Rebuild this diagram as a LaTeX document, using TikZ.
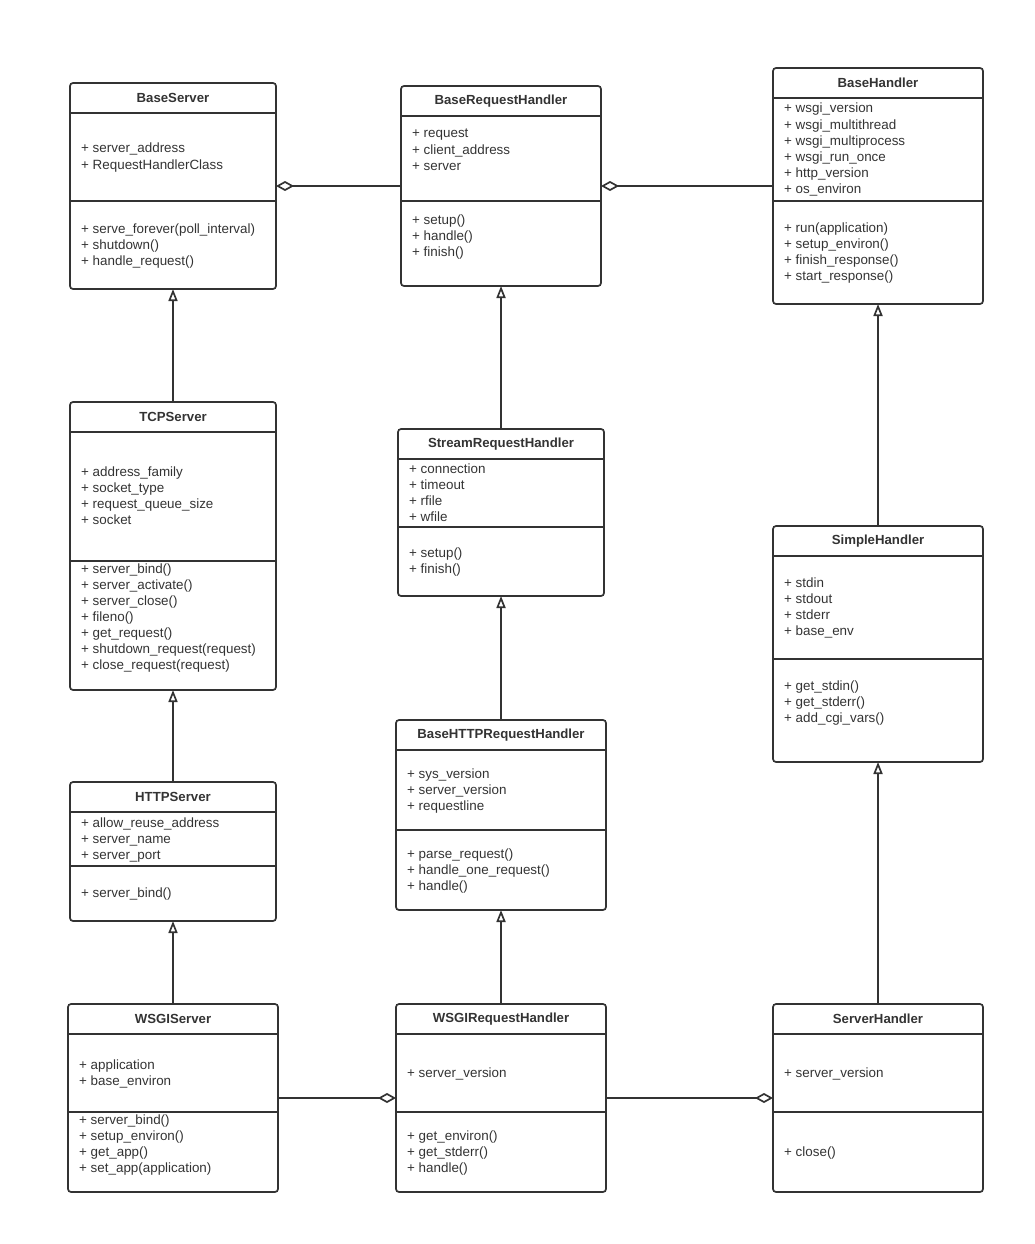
\documentclass[tikz,border=0pt]{standalone}
\usepackage{fontspec}
\setmainfont{Liberation Sans}
\usetikzlibrary{arrows.meta}
\definecolor{ink}{HTML}{333333}
\tikzset{
  classbox/.style={draw=ink, line width=1.7pt, rounded corners=3pt, inner sep=0pt, outer sep=0pt},
  divider/.style={draw=ink, line width=1.7pt},
  ctitle/.style={font=\fontsize{13.2}{15}\selectfont\bfseries, text=ink, inner sep=0pt},
  member/.style={anchor=west, font=\fontsize{13.4}{15}\selectfont, text=ink, inner sep=0pt, text height=9pt, text depth=3pt},
  inherit/.style={draw=ink, line width=1.7pt, -{Triangle[open, length=12pt, width=9pt]}},
  aggreg/.style={draw=ink, line width=1.7pt, -{Diamond[open, length=18pt, width=10pt]}},
}
\newcommand\umlclass[8]{%
  \pgfmathsetmacro\cw{#4-#2}\pgfmathsetmacro\ch{#5-#3}%
  \node[classbox, minimum width=\cw pt, minimum height=\ch pt] (#1) at ({(#2+#4)/2},{(#3+#5)/2}) {};
  \node[ctitle] (#1-title) at ({(#2+#4)/2},{(#3+#6)/2}) {#8};
  \draw[divider] (#2,#6) -- (#4,#6);
  \draw[divider] (#2,#7) -- (#4,#7);
}
\newcommand\umlmembers[4]{%
  \foreach \t [count=\i] in {#4} \node[member] (#1\i) at ({#2+11},{#3+2+16*\i-16}) {+ \t};
}
\begin{document}
\begin{tikzpicture}[x=1pt,y=-1pt]
\useasboundingbox (0,0) rectangle (1035,1244);

% BaseServer
\umlclass{BaseServer}{70}{83}{276}{289}{113}{201}{BaseServer}
\umlmembers{BaseServer-a}{70}{148}{server\_address, RequestHandlerClass}
\umlmembers{BaseServer-m}{70}{228}{serve\_forever(poll\_interval), shutdown(), handle\_request()}

% BaseRequestHandler
\umlclass{BaseRequestHandler}{401}{86}{601}{286}{116}{201}{BaseRequestHandler}
\umlmembers{BaseRequestHandler-a}{401}{133}{request, client\_address, server}
\umlmembers{BaseRequestHandler-m}{401}{219}{setup(), handle(), finish()}

% BaseHandler
\umlclass{BaseHandler}{773}{68}{983}{304}{98}{201}{BaseHandler}
\umlmembers{BaseHandler-a}{773}{108}{wsgi\_version, wsgi\_multithread, wsgi\_multiprocess, wsgi\_run\_once, http\_version, os\_environ}
\umlmembers{BaseHandler-m}{773}{227}{run(application), setup\_environ(), finish\_response(), start\_response()}

% TCPServer
\umlclass{TCPServer}{70}{402}{276}{690}{432}{561}{TCPServer}
\umlmembers{TCPServer-a}{70}{471}{address\_family, socket\_type, request\_queue\_size, socket}
\umlmembers{TCPServer-m}{70}{568}{server\_bind(), server\_activate(), server\_close(), fileno(), get\_request(), shutdown\_request(request), close\_request(request)}

% StreamRequestHandler
\umlclass{StreamRequestHandler}{398}{429}{604}{596}{459}{527}{StreamRequestHandler}
\umlmembers{StreamRequestHandler-a}{398}{468}{connection, timeout, rfile, wfile}
\umlmembers{StreamRequestHandler-m}{398}{552}{setup(), finish()}

% SimpleHandler
\umlclass{SimpleHandler}{773}{526}{983}{762}{556}{659}{SimpleHandler}
\umlmembers{SimpleHandler-a}{773}{582}{stdin, stdout, stderr, base\_env}
\umlmembers{SimpleHandler-m}{773}{685}{get\_stdin(), get\_stderr(), add\_cgi\_vars()}

% HTTPServer
\umlclass{HTTPServer}{70}{782}{276}{921}{812}{866}{HTTPServer}
\umlmembers{HTTPServer-a}{70}{822}{allow\_reuse\_address, server\_name, server\_port}
\umlmembers{HTTPServer-m}{70}{892}{server\_bind()}

% BaseHTTPRequestHandler
\umlclass{BaseHTTPRequestHandler}{396}{720}{606}{910}{750}{830}{BaseHTTPRequestHandler}
\umlmembers{BaseHTTPRequestHandler-a}{396}{773}{sys\_version, server\_version, requestline}
\umlmembers{BaseHTTPRequestHandler-m}{396}{853}{parse\_request(), handle\_one\_request(), handle()}

% WSGIServer
\umlclass{WSGIServer}{68}{1004}{278}{1192}{1034}{1112}{WSGIServer}
\umlmembers{WSGIServer-a}{68}{1064}{application, base\_environ}
\umlmembers{WSGIServer-m}{68}{1119}{server\_bind(), setup\_environ(), get\_app(), set\_app(application)}

% WSGIRequestHandler
\umlclass{WSGIRequestHandler}{396}{1004}{606}{1192}{1034}{1112}{WSGIRequestHandler}
\umlmembers{WSGIRequestHandler-a}{396}{1072}{server\_version}
\umlmembers{WSGIRequestHandler-m}{396}{1135}{get\_environ(), get\_stderr(), handle()}

% ServerHandler
\umlclass{ServerHandler}{773}{1004}{983}{1192}{1034}{1112}{ServerHandler}
\umlmembers{ServerHandler-a}{773}{1072}{server\_version}
\umlmembers{ServerHandler-m}{773}{1151}{close()}

% aggregation
\draw[aggreg] (BaseRequestHandler.west) -- (BaseServer.east);
\draw[aggreg] (BaseHandler.west) -- (BaseRequestHandler.east);
\draw[aggreg] (WSGIServer.east) -- (WSGIRequestHandler.west);
\draw[aggreg] (WSGIRequestHandler.east) -- (ServerHandler.west);

% inheritance
\draw[inherit] (TCPServer.north) -- (BaseServer.south);
\draw[inherit] (HTTPServer.north) -- (TCPServer.south);
\draw[inherit] (WSGIServer.north) -- (HTTPServer.south);
\draw[inherit] (StreamRequestHandler.north) -- (BaseRequestHandler.south);
\draw[inherit] (BaseHTTPRequestHandler.north) -- (StreamRequestHandler.south);
\draw[inherit] (WSGIRequestHandler.north) -- (BaseHTTPRequestHandler.south);
\draw[inherit] (SimpleHandler.north) -- (BaseHandler.south);
\draw[inherit] (ServerHandler.north) -- (SimpleHandler.south);
\end{tikzpicture}
\end{document}
